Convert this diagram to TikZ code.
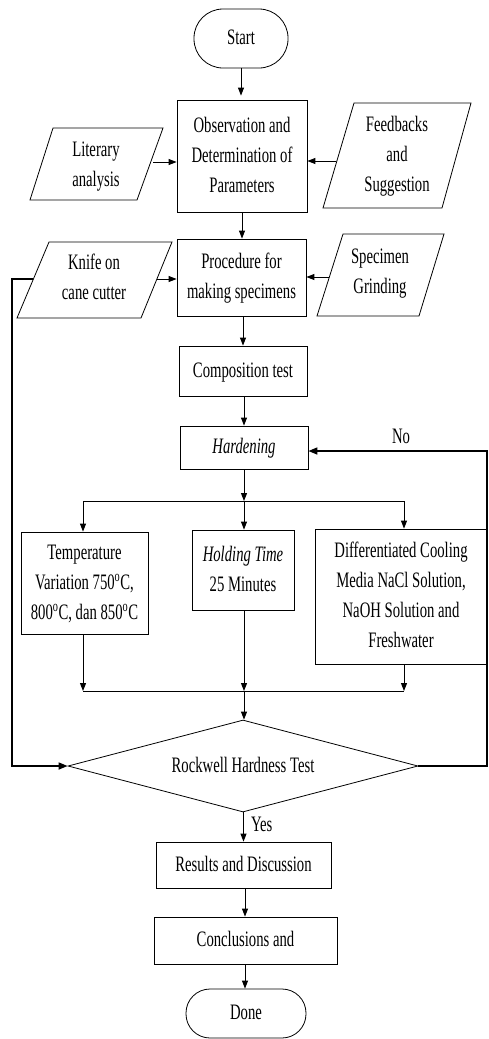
\documentclass[tikz,border=0pt]{standalone}
\usepackage{fontspec}
\setmainfont{Liberation Serif}
\usepackage{graphicx}
\usetikzlibrary{arrows.meta,shapes.geometric}
\newcommand{\tx}[1]{\scalebox{1}[1.5]{\begin{tabular}{@{}c@{}}#1\end{tabular}}}
\newcommand{\dg}{\textsuperscript{o}}
\begin{document}
\begin{tikzpicture}[x=1pt,y=-1pt,
  font=\fontsize{14.7}{20}\selectfont,
  box/.style={draw, line width=0.8pt, inner sep=0pt, align=center},
  term/.style={box, rounded corners=#1},
  para/.style={line width=0.8pt},
  lbl/.style={inner sep=0pt},
  arr/.style={-{Triangle[length=8pt,width=6pt]}, line width=1pt},
  ln/.style={line width=1pt},
  loop/.style={line width=1.6pt}
]
\useasboundingbox (0,0) rectangle (488,1039);

% terminals
\node[term=29pt, minimum width=94pt, minimum height=59pt] (start) at (241,38.5) {\tx{Start}};
\node[term=24pt, minimum width=120pt, minimum height=49pt] (done) at (246,1013.5) {\tx{Done}};

% process boxes
\node[box, minimum width=130pt, minimum height=112pt] (obs) at (242,156) {\tx{Observation and\\Determination of\\Parameters}};
\node[box, minimum width=129pt, minimum height=77pt] (proc) at (241.5,277.5) {\tx{Procedure for\\making specimens}};
\node[box, minimum width=128pt, minimum height=50pt] (comp) at (243,371) {\tx{Composition test}};
\node[box, minimum width=128pt, minimum height=43pt] (hard) at (244,447.5) {\tx{\textit{Hardening}}};
\node[box, minimum width=127pt, minimum height=102pt] (temp) at (84.5,583) {\tx{Temperature\\Variation 750\dg C,\\800\dg C, dan 850\dg C}};
\node[box, minimum width=102pt, minimum height=80pt] (hold) at (243,570) {\tx{\textit{Holding Time}\\25 Minutes}};
\node[box, minimum width=172pt, minimum height=135pt] (diff) at (401,596.5) {\tx{Differentiated Cooling\\Media NaCl Solution,\\NaOH Solution and\\Freshwater}};
\node[box, shape=diamond, shape aspect=3.8, minimum width=350pt, minimum height=92pt] (rock) at (243,766) {\tx{Rockwell Hardness Test}};
\node[box, minimum width=175pt, minimum height=46pt] (res) at (243.5,865) {\tx{Results and Discussion}};
\node[box, minimum width=183pt, minimum height=47pt] (conc) at (245.5,940.5) {\tx{Conclusions and}};

% parallelograms (input/output)
\draw[para] (53,128) -- (163,128) -- (137,200) -- (30,200) -- cycle;
\node[lbl] (lit) at (96,165) {\tx{Literary\\analysis}};
\draw[para] (354,103) -- (471,103) -- (442,208) -- (323,208) -- cycle;
\node[lbl] (fb) at (397,155) {\tx{Feedbacks\\and\\Suggestion}};
\draw[para] (49,242) -- (172,242) -- (141,318) -- (17,318) -- cycle;
\node[lbl] (knife) at (94,278) {\tx{Knife on\\cane cutter}};
\draw[para] (343,234) -- (444,234) -- (419,316) -- (317,316) -- cycle;
\node[lbl] (grind) at (380,272) {\tx{Specimen\\Grinding}};

% attachment points
\coordinate (litE) at (153,162);
\coordinate (fbW) at (336,161);
\coordinate (knE) at (157,279);
\coordinate (knW) at (33,279);
\coordinate (grW) at (329,277);
\coordinate (split) at (244,501);
\coordinate (splitL) at (83,501);
\coordinate (splitR) at (404,501);
\coordinate (merge) at (244,691);
\coordinate (mergeL) at (83,691);
\coordinate (mergeR) at (404,691);
\coordinate (lcL) at (12,279);
\coordinate (lcB) at (12,766);
\coordinate (rcB) at (487,766);
\coordinate (rcT) at (487,451);

% main flow
\draw[arr, shorten >=4pt] (start.south) -- (start.south |- obs.north);
\draw[arr] (obs.south -| 242,0) -- (proc.north -| 242,0);
\draw[arr] (proc.south -| 243,0) -- (comp.north -| 243,0);
\draw[arr] (comp.south -| 244,0) -- (hard.north -| 244,0);
\draw[arr] (litE) -- (litE -| obs.west);
\draw[arr] (fbW) -- (fbW -| obs.east);
\draw[arr] (knE) -- (knE -| proc.west);
\draw[arr] (grW) -- (grW -| proc.east);

% split
\draw[arr] (hard.south -| split) -- (split);
\draw[ln] (splitL) -- (splitR);
\draw[arr] (splitL) -- (splitL |- temp.north);
\draw[arr] (split) -- (split |- hold.north);
\draw[arr] (splitR) -- (splitR |- diff.north);

% merge
\draw[arr] (mergeL |- temp.south) -- (mergeL);
\draw[arr] (merge |- hold.south) -- (merge);
\draw[arr] (mergeR |- diff.south) -- (mergeR);
\draw[ln] (mergeL) -- (mergeR);
\draw[arr] (merge) -- (rock.north -| merge);

% decision outputs
\draw[arr] (rock.south -| 243.5,0) -- (res.north -| 243.5,0) node[lbl, pos=0.45, right=7pt] (yes) {\tx{Yes}};
\draw[arr] (res.south -| 245,0) -- (conc.north -| 245,0);
\draw[arr] (conc.south -| 245,0) -- (done.north -| 245,0);

% loops
\draw[loop, -{Triangle[length=9pt,width=7pt]}] (knW) -- (lcL) -- (lcB) -- (rock.west);
\draw[loop, -{Triangle[length=9pt,width=7pt]}] (rock.east) -- (rcB) -- (rcT) -- (hard.east |- rcT);
\node[lbl] (no) at (401,437) {\tx{No}};
\end{tikzpicture}
\end{document}
